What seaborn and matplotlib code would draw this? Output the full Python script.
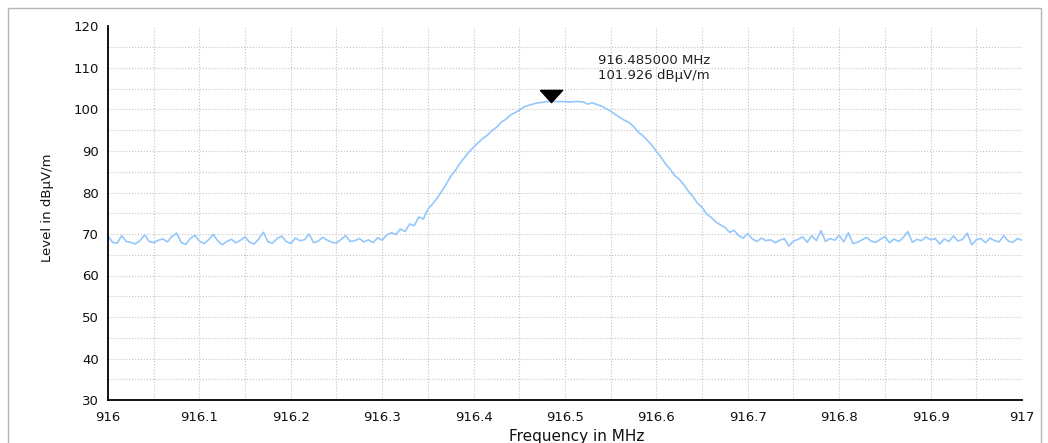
import numpy as np
import pandas as pd
import matplotlib
import matplotlib.pyplot as plt
import seaborn as sns
from matplotlib.patches import Rectangle
from matplotlib.ticker import MultipleLocator

matplotlib.use('Agg')

# sweep 916 - 917 MHz, levels (dBuV/m)
floor_left = [
    69.5, 68.0, 67.8, 69.6, 68.2, 68.0, 67.6, 68.4, 69.8, 68.2,
    67.9, 68.5, 68.8, 68.1, 69.4, 70.2, 68.0, 67.5, 68.9, 69.7,
    68.3, 67.7, 68.6, 69.9, 68.4, 67.4, 68.2, 68.7, 67.9, 68.5,
    69.3, 68.0, 67.6, 68.8, 70.4, 68.1, 67.8, 68.9, 69.5, 68.2,
    67.7, 69.0, 68.4, 68.6, 70.0, 67.9, 68.3, 69.2, 68.5, 68.0,
    67.8, 68.7, 69.6, 68.2, 68.4, 68.9, 68.1, 68.6, 67.9, 69.1,
    68.5,
]
signal = [
    69.8, 70.3, 69.9, 71.2, 70.6, 72.4, 72.0, 74.1, 73.6, 76.0,
    77.2, 78.6, 80.3, 82.0, 83.9, 85.3, 87.0, 88.4, 89.8, 90.9,
    92.0, 93.0, 93.8, 94.9, 95.7, 96.9, 97.6, 98.6, 99.2, 99.8,
    100.6, 101.0, 101.3, 101.6, 101.7, 101.9, 101.926, 101.9, 101.9, 101.9,
    101.8, 101.9, 101.9, 101.8, 101.3, 101.6, 101.2, 100.8, 100.2, 99.6,
    98.8, 98.1, 97.4, 96.9, 95.9, 94.6, 93.7, 92.6, 91.4, 89.9,
    88.5, 86.9, 85.6, 84.1, 83.2, 81.9, 80.3, 79.0, 77.4, 76.4,
    74.8, 74.0, 72.9, 72.2, 71.6, 70.4, 70.9, 69.6, 69.0, 70.1,
]
floor_right = [
    68.8, 68.2, 69.0, 68.4, 68.6, 67.9, 68.5, 68.9, 67.1, 68.3,
    68.7, 69.3, 68.0, 69.6, 68.4, 70.8, 68.2, 68.9, 68.5, 69.7,
    68.1, 70.3, 67.7, 68.0, 68.6, 69.2, 68.3, 68.0, 68.7, 69.4,
    67.9, 68.8, 68.2, 69.1, 70.6, 68.0, 68.7, 68.4, 69.3, 68.6,
    68.9, 67.6, 68.8, 68.2, 69.5, 68.3, 68.7, 70.2, 67.4, 68.6,
    68.9, 67.9, 69.0, 68.4, 68.1, 69.6, 68.3, 68.0, 68.9, 68.5,
]
f_start, f_stop = 916.0, 917.0
peak_freq = 916.485
peak_level = 101.926

levels = floor_left + signal + floor_right
df = pd.DataFrame({
    'freq': np.linspace(f_start, f_stop, len(levels)),
    'level': levels,
})

sns.set_theme(style='white')
plt.rcParams['font.family'] = ['DejaVu Sans']

fig = plt.figure(figsize=(10.48, 4.43), dpi=100)
ax = fig.add_axes([108 / 1048, 1 - 400 / 443, 914 / 1048, (400 - 26.5) / 443])

sns.lineplot(data=df, x='freq', y='level', ax=ax, color='#94c8fc', linewidth=1.2)

# peak marker (flat down-pointing triangle)
tri = [(-1, 0.55), (1, 0.55), (0, -0.55), (-1, 0.55)]
ax.plot([peak_freq], [103.3], marker=tri, markersize=16, color='black', linestyle='none')
ax.text(916.5365, 111.7, f'{peak_freq:.6f} MHz', fontsize=9.5, color='#222222', va='center')
ax.text(916.5365, 108.2, f'{peak_level:.3f} dB\u00b5V/m', fontsize=9.5, color='#222222', va='center')

ax.set_xlim(916, 917)
ax.set_ylim(30, 120)
ax.xaxis.set_major_locator(MultipleLocator(0.1))
ax.xaxis.set_minor_locator(MultipleLocator(0.05))
ax.yaxis.set_major_locator(MultipleLocator(10))
ax.yaxis.set_minor_locator(MultipleLocator(5))
ax.set_xticks(np.arange(916, 917.01, 0.1))
ax.set_xticklabels(['916', '916.1', '916.2', '916.3', '916.4', '916.5',
                    '916.6', '916.7', '916.8', '916.9', '917'])

ax.tick_params(which='both', direction='inout', length=6.5, width=1.1, color='black',
               labelsize=9.5, labelcolor='#111111')
ax.tick_params(axis='y', which='both', pad=3.2)
ax.tick_params(axis='x', which='both', pad=4.5)

ax.grid(True, which='both', linestyle=':', linewidth=0.8, color='#c4c4c4')
for side in ['top', 'right']:
    ax.spines[side].set_visible(False)
for side in ['left', 'bottom']:
    ax.spines[side].set_color('black')
    ax.spines[side].set_linewidth(1.3)

ax.set_xlabel('')
ax.set_ylabel('')
fig.text(577 / 1048, 1 - 437 / 443, 'Frequency in MHz', fontsize=11, ha='center', va='center',
         color='#111111')
fig.text(47 / 1048, 1 - 208 / 443, 'Level in dB\u00b5V/m', fontsize=9.5, rotation=90,
         ha='center', va='center', color='#111111')

# outer frame of the screenshot
fig.patches.append(Rectangle((7.5 / 1048, -0.1), (1041 - 7.5) / 1048, 1.1 - 8 / 443,
                             transform=fig.transFigure, fill=False, edgecolor='#b4b4b4',
                             linewidth=1.0))

plt.savefig('out.png', dpi=100)
plt.close()
